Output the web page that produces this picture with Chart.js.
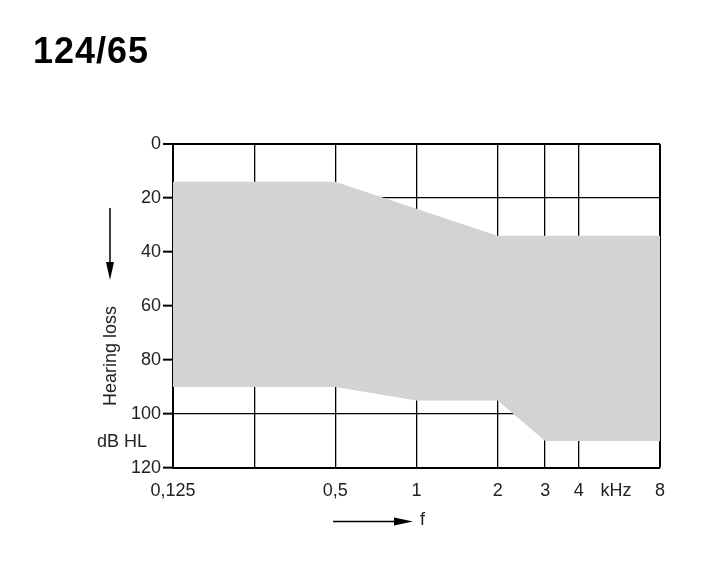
<!DOCTYPE html>
<html>
<head>
<meta charset="utf-8">
<script src="https://cdn.jsdelivr.net/npm/chart.js@4/dist/chart.umd.min.js"></script>
<style>
  html, body { margin: 0; padding: 0; background: #fff; }
  #wrap { position: relative; width: 708px; height: 577px; overflow: hidden; }
  canvas { position: absolute; left: 0; top: 0; }
  .lbl { position: absolute; font-family: "Liberation Sans", Arial, sans-serif; color: #222; white-space: nowrap; }
  #title { left: 33px; top: 30px; font-size: 36px; font-weight: bold; color: #000; letter-spacing: 1px; }
  #ytitle { left: 110px; top: 356px; font-size: 18px; transform: translate(-50%, -50%) rotate(-90deg); }
  #unit { left: 97px; top: 431px; font-size: 18px; }
  #ftitle { left: 420px; top: 509px; font-size: 18px; }
</style>
</head>
<body>
<div id="wrap">
  <canvas id="c" width="708" height="577"></canvas>
  <div class="lbl" id="title">124/65</div>
  <div class="lbl" id="ytitle">Hearing loss</div>
  <div class="lbl" id="unit">dB HL</div>
  <div class="lbl" id="ftitle">f</div>
</div>
<script>
// ---- data (frequency in kHz, hearing loss in dB HL) ----
const upperFreq = [0.125, 0.5, 2, 8];
const upperLoss = [14, 14, 34, 34];
const lowerFreq = [0.125, 0.5, 1, 2, 3, 8];
const lowerLoss = [90, 90, 95, 95, 110, 110];

const xTickValues = [0.125, 0.25, 0.5, 1, 2, 3, 4, 5.5, 8];
const xTickLabels = ['0,125', '', '0,5', '1', '2', '3', '4', 'kHz', '8'];
const xNoGrid = ['kHz'];
const yTickValues = [0, 20, 40, 60, 80, 100, 120];

const toPoints = (xs, ys) => xs.map((x, i) => ({ x: x, y: ys[i] }));

const arrows = {
  id: 'arrows',
  afterDraw(chart) {
    const ctx = chart.ctx;
    const a = chart.chartArea;
    ctx.save();
    ctx.strokeStyle = '#000';
    ctx.fillStyle = '#000';
    ctx.lineWidth = 1.5;
    // vertical arrow (hearing loss increases downward)
    const vx = a.left - 63;
    ctx.beginPath(); ctx.moveTo(vx, 208); ctx.lineTo(vx, 266); ctx.stroke();
    ctx.beginPath(); ctx.moveTo(vx - 4, 262); ctx.lineTo(vx + 4, 262); ctx.lineTo(vx, 280); ctx.closePath(); ctx.fill();
    // horizontal arrow (frequency)
    const hy = 521.5;
    ctx.beginPath(); ctx.moveTo(333, hy); ctx.lineTo(398, hy); ctx.stroke();
    ctx.beginPath(); ctx.moveTo(394, hy - 4); ctx.lineTo(394, hy + 4); ctx.lineTo(413, hy); ctx.closePath(); ctx.fill();
    ctx.restore();
  }
};

new Chart(document.getElementById('c'), {
  type: 'line',
  data: {
    datasets: [
      { data: toPoints(upperFreq, upperLoss), borderWidth: 0, borderColor: 'rgba(0,0,0,0)', pointRadius: 0, fill: false, tension: 0 },
      { data: toPoints(lowerFreq, lowerLoss), borderWidth: 0, borderColor: 'rgba(0,0,0,0)', pointRadius: 0, fill: 0, backgroundColor: '#d3d3d3', tension: 0 }
    ]
  },
  options: {
    responsive: false,
    animation: false,
    devicePixelRatio: 1,
    layout: { padding: { left: 0, top: 144, right: 48, bottom: 0 } },
    plugins: { legend: { display: false }, tooltip: { enabled: false }, title: { display: false } },
    scales: {
      x: {
        type: 'logarithmic',
        min: 0.125, max: 8,
        z: 1,
        afterBuildTicks: (s) => { s.ticks = xTickValues.map(v => ({ value: v })); },
        afterFit: (s) => { s.height = 577 - 468; },
        border: { display: true, color: '#000', width: 2 },
        grid: {
          drawTicks: false,
          lineWidth: (c) => (c.tick && c.tick.value === 8 ? 2 : 1.3),
          color: (c) => {
            const i = xTickValues.indexOf(c.tick ? c.tick.value : -1);
            return (i >= 0 && xNoGrid.includes(xTickLabels[i])) ? 'rgba(0,0,0,0)' : '#000';
          }
        },
        ticks: {
          autoSkip: false, maxRotation: 0, padding: 12,
          color: '#222',
          font: { family: '"Liberation Sans", Arial, sans-serif', size: 18 },
          callback: (v) => { const i = xTickValues.indexOf(v); return i >= 0 ? xTickLabels[i] : ''; }
        }
      },
      y: {
        reverse: true,
        min: 0, max: 120,
        z: 1,
        afterBuildTicks: (s) => { s.ticks = yTickValues.map(v => ({ value: v })); },
        afterFit: (s) => { s.width = 173; },
        border: { display: true, color: '#000', width: 2 },
        grid: {
          color: '#000',
          lineWidth: (c) => (c.tick && c.tick.value === 0 ? 2 : 1.3),
          tickLength: 10, tickWidth: 2, tickColor: '#000'
        },
        ticks: {
          padding: 2,
          color: '#222',
          font: { family: '"Liberation Sans", Arial, sans-serif', size: 18 }
        }
      }
    }
  },
  plugins: [arrows]
});
</script>
</body>
</html>
